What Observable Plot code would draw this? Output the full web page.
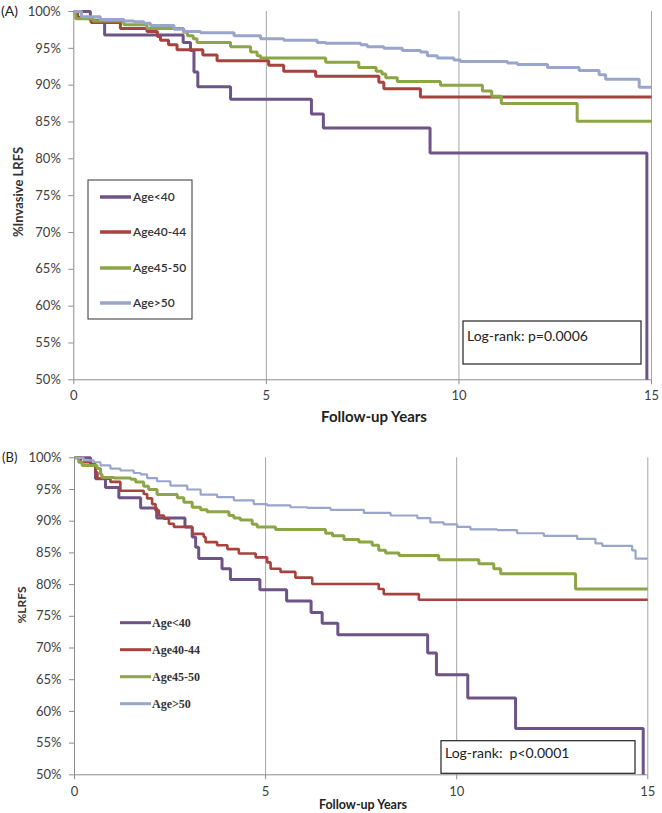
<!DOCTYPE html>
<html><head><meta charset="utf-8">
<script src="https://cdn.jsdelivr.net/npm/d3@7"></script>
<script src="https://cdn.jsdelivr.net/npm/@observablehq/plot@0.6"></script>
<style>
body{margin:0;background:#fff;}
#fig{width:662px;height:813px;position:relative;background:#fff;}
#fig svg{display:block;}
</style>
</head><body><div id="fig"></div>
<script>
// ---------- data ----------
const groups = ["Age<40", "Age40-44", "Age45-50", "Age>50"];
const colors = ["#6E5386", "#A8423E", "#8CA546", "#9AA5CB"];
const xTicks = [0, 5, 10, 15];
const yTicks = [50, 55, 60, 65, 70, 75, 80, 85, 90, 95, 100];

// Panel A: %Invasive LRFS
const aPurpleT = [0, 0.43, 0.80, 2.84, 3.03, 3.12, 3.22, 4.07, 6.17, 6.48, 9.25, 14.88];
const aPurpleS = [100, 98.8, 96.8, 95.8, 94.7, 91.8, 89.8, 88.1, 86.1, 84.2, 80.8, 50];
const aRedT = [0, 0.1, 0.45, 1.21, 1.9, 2.17, 2.25, 2.46, 2.68, 3.35, 3.72, 5.06, 5.45, 6.28, 7.92, 8.05, 9.0, 15];
const aRedS = [100, 99.2, 98.5, 97.7, 97.3, 96.6, 96.1, 95.5, 94.8, 94.1, 93.3, 92.7, 91.9, 91.2, 90.4, 89.5, 88.4, 88.4];
const aGreenT = [0, 0.05, 0.5, 1.3, 1.9, 2.85, 2.95, 3.1, 3.2, 4.07, 4.59, 4.76, 4.85, 6.54, 7.40, 7.85, 8.0, 8.1, 8.4, 9.52, 10.61, 10.85, 11.1, 13.07, 15];
const aGreenS = [100, 99.0, 98.7, 98.2, 97.7, 97.2, 96.7, 96.3, 95.8, 95.2, 94.5, 94.0, 93.7, 93.1, 92.4, 91.9, 91.5, 91.0, 90.5, 90.0, 89.2, 88.5, 87.5, 85.1, 85.1];
const aBlueT = [0, 0.2, 0.69, 1.3, 1.56, 1.82, 1.99, 2.6, 2.86, 3.29, 4.16, 4.85, 5.45, 6.32, 6.54, 7.45, 7.62, 8.05, 8.53, 9.0, 9.18, 9.44, 9.87, 10.04, 11.26, 11.52, 12.30, 13.12, 13.64, 13.81, 14.68, 15];
const aBlueS = [100, 99.3, 98.9, 98.7, 98.6, 98.4, 98.1, 97.6, 97.3, 97.1, 96.7, 96.3, 96.1, 95.8, 95.7, 95.5, 95.2, 95.0, 94.7, 94.5, 94.0, 93.7, 93.4, 93.2, 93.0, 92.8, 92.4, 92.0, 91.4, 90.8, 89.7, 89.7];

// Panel B: %LRFS
const bPurpleT = [0, 0.42, 0.55, 0.81, 1.16, 1.73, 2.15, 2.89, 3.08, 3.17, 3.25, 3.86, 4.08, 4.85, 5.55, 6.19, 6.48, 6.89, 9.24, 9.47, 10.29, 11.54, 14.88];
const bPurpleS = [100, 99.0, 96.7, 95.3, 93.7, 92.1, 90.5, 89.1, 87.5, 85.9, 84.1, 82.5, 80.8, 79.2, 77.4, 75.6, 73.9, 72.1, 69.2, 65.8, 62.1, 57.3, 50];
const bRedT = [0, 0.16, 0.42, 0.55, 0.6, 0.94, 1.20, 1.81, 1.90, 2.03, 2.12, 2.21, 2.34, 2.47, 2.60, 3.08, 3.38, 3.43, 3.73, 4.00, 4.30, 4.74, 5.04, 5.13, 5.39, 5.78, 6.22, 7.96, 8.09, 9.01, 15];
const bRedS = [100, 99.3, 98.8, 97.7, 96.7, 96.2, 94.8, 94.3, 93.6, 92.7, 91.7, 90.9, 90.4, 89.6, 89.1, 88.0, 87.5, 86.7, 86.2, 85.6, 84.9, 84.3, 83.5, 82.5, 82.0, 81.1, 80.1, 79.3, 78.5, 77.6, 77.6];
const bGreenT = [0, 0.11, 0.2, 0.59, 0.68, 0.72, 1.03, 1.47, 1.60, 1.81, 1.94, 2.16, 2.69, 2.86, 3.08, 3.30, 3.47, 4.04, 4.17, 4.34, 4.65, 4.78, 5.26, 6.57, 6.75, 7.05, 7.44, 7.79, 7.96, 8.14, 8.49, 9.53, 10.58, 10.97, 11.15, 13.11, 15];
const bGreenS = [100, 99.3, 98.8, 98.3, 97.4, 96.9, 96.8, 96.6, 96.2, 95.5, 95.0, 94.2, 93.7, 93.0, 92.2, 91.8, 91.5, 90.9, 90.5, 90.2, 89.5, 89.1, 88.7, 88.1, 87.7, 87.1, 86.7, 86.2, 85.4, 85.0, 84.6, 83.9, 83.3, 82.5, 81.7, 79.3, 79.3];
const bBlueT = [0, 0.24, 0.50, 0.68, 0.94, 1.20, 1.55, 1.73, 1.90, 2.16, 2.51, 2.95, 3.30, 3.73, 4.17, 4.69, 5.04, 5.65, 6.09, 6.70, 7.57, 8.27, 8.97, 9.31, 9.66, 10.01, 10.36, 11.06, 11.58, 12.28, 13.15, 13.63, 13.81, 14.59, 14.68, 15];
const bBlueS = [100, 99.6, 99.3, 98.8, 98.3, 98.0, 97.6, 97.4, 96.8, 96.3, 95.6, 95.0, 94.2, 93.8, 93.3, 92.7, 92.5, 92.2, 92.1, 91.8, 91.3, 90.9, 90.5, 89.8, 89.5, 89.1, 88.7, 88.6, 88.1, 87.7, 87.2, 86.5, 86.1, 85.4, 84.1, 84.1];

const pValueA = "Log-rank: p=0.0006";
const pValueB = "Log-rank:\u00a0 p<0.0001";

// ---------- helpers ----------
const rows = (group, t, s) => t.map((d, i) => ({group, t: d, s: s[i]}));
const FONT = "Lato, 'Open Sans', 'Noto Sans', sans-serif";

function makeChart(cfg) {
  return Plot.plot({
    width: 662,
    height: cfg.height,
    marginTop: cfg.mt, marginBottom: cfg.mb, marginLeft: cfg.ml, marginRight: cfg.mr,
    style: {fontFamily: FONT, fontSize: "13px", color: "#404040", background: "#fff", overflow: "visible"},
    x: {domain: [0, 15]},
    y: {domain: [50, 100]},
    color: {domain: groups, range: colors},
    marks: [
      Plot.ruleX(xTicks.slice(1), {stroke: "#a6a6a6", strokeWidth: 1}),
      Plot.axisY({ticks: yTicks, tickFormat: d => d + "%", tickSize: 5, tickPadding: 8, stroke: "#8c8c8c", fill: "#404040", label: null}),
      Plot.axisX({ticks: xTicks, tickFormat: d => String(d), tickSize: 5, tickPadding: cfg.xpad, stroke: "#8c8c8c", fill: "#404040", label: null}),
      Plot.ruleX([0], {stroke: "#8c8c8c"}),
      Plot.ruleY([50], {stroke: "#8c8c8c"}),
      ...cfg.series.map((sr, i) => Plot.line(sr, {x: "t", y: "s", stroke: "group", curve: "step-after", strokeWidth: cfg.widths[i], strokeLinejoin: "miter", strokeLinecap: "butt"}))
    ]
  });
}

const fig = document.getElementById("fig");

// ---------- Panel A ----------
const svgA = makeChart({
  height: 440, mt: 11, mb: 60.7, ml: 73.3, mr: 11, xpad: 6,
  widths: [3, 3, 3, 3],
  series: [rows(groups[0], aPurpleT, aPurpleS), rows(groups[1], aRedT, aRedS), rows(groups[2], aGreenT, aGreenS), rows(groups[3], aBlueT, aBlueS)]
});
fig.appendChild(svgA);
{
  const g = d3.select(svgA).append("g").attr("font-family", FONT).attr("text-anchor", "start");
  g.append("text").attr("x", 1).attr("y", 11).attr("dy", "0.35em").attr("font-size", 14).attr("fill", "#222").text("(A)");
  g.append("text").attr("transform", "translate(18,192) rotate(-90)").attr("text-anchor", "middle").attr("dy", "0.35em")
    .attr("font-size", 13).attr("font-weight", "bold").attr("fill", "#333").text("%Invasive LRFS");
  g.append("text").attr("x", 374).attr("y", 417).attr("text-anchor", "middle").attr("dy", "0.35em")
    .attr("font-size", 15).attr("font-weight", "bold").attr("fill", "#222").text("Follow-up Years");
  g.append("rect").attr("x", 88).attr("y", 180).attr("width", 104).attr("height", 139).attr("fill", "#fff").attr("stroke", "#333").attr("stroke-width", 1);
  const ly = [197, 232, 268, 303];
  groups.forEach((gr, i) => {
    g.append("line").attr("x1", 100).attr("x2", 131).attr("y1", ly[i]).attr("y2", ly[i]).attr("stroke", colors[i]).attr("stroke-width", 3.5);
    g.append("text").attr("x", 133).attr("y", ly[i]).attr("dy", "0.35em").attr("font-size", 12).attr("font-weight", 600).attr("fill", "#333").text(gr);
  });
  g.append("rect").attr("x", 463).attr("y", 321).attr("width", 178).attr("height", 43).attr("fill", "#fff").attr("stroke", "#222").attr("stroke-width", 1.2);
  g.append("text").attr("x", 467).attr("y", 336).attr("dy", "0.35em").attr("font-size", 14).attr("fill", "#222").text(pValueA);
}

// ---------- Panel B ----------
const svgB = makeChart({
  height: 373, mt: 17.3, mb: 38.7, ml: 74, mr: 14.7, xpad: 7,
  widths: [3, 2.6, 3, 2.2],
  series: [rows(groups[0], bPurpleT, bPurpleS), rows(groups[1], bRedT, bRedS), rows(groups[2], bGreenT, bGreenS), rows(groups[3], bBlueT, bBlueS)]
});
fig.appendChild(svgB);
{
  const g = d3.select(svgB).append("g").attr("font-family", FONT).attr("text-anchor", "start");
  g.append("text").attr("x", 2).attr("y", 17.3).attr("dy", "0.35em").attr("font-size", 13).attr("fill", "#222").text("(B)");
  g.append("text").attr("transform", "translate(22,165) rotate(-90)").attr("text-anchor", "middle").attr("dy", "0.35em")
    .attr("font-size", 12).attr("font-weight", "bold").attr("fill", "#333").text("%LRFS");
  g.append("text").attr("x", 363).attr("y", 365).attr("text-anchor", "middle").attr("dy", "0.35em")
    .attr("font-size", 12.5).attr("font-weight", "bold").attr("fill", "#222").text("Follow-up Years");
  const ly = [182.7, 209.7, 236.7, 263.7];
  groups.forEach((gr, i) => {
    g.append("line").attr("x1", 120).attr("x2", 151).attr("y1", ly[i]).attr("y2", ly[i]).attr("stroke", colors[i]).attr("stroke-width", 3);
    g.append("text").attr("x", 152).attr("y", ly[i]).attr("dy", "0.35em").attr("font-size", 12).attr("font-weight", "bold")
      .attr("font-family", "'Liberation Serif', 'DejaVu Serif', serif").attr("fill", "#333").text(gr);
  });
  g.append("rect").attr("x", 441).attr("y", 300.7).attr("width", 194).attr("height", 32.6).attr("fill", "#fff").attr("stroke", "#222").attr("stroke-width", 1.2);
  g.append("text").attr("x", 445).attr("y", 313).attr("dy", "0.35em").attr("font-size", 14).attr("fill", "#222").text(pValueB);
}
</script>
</body></html>
